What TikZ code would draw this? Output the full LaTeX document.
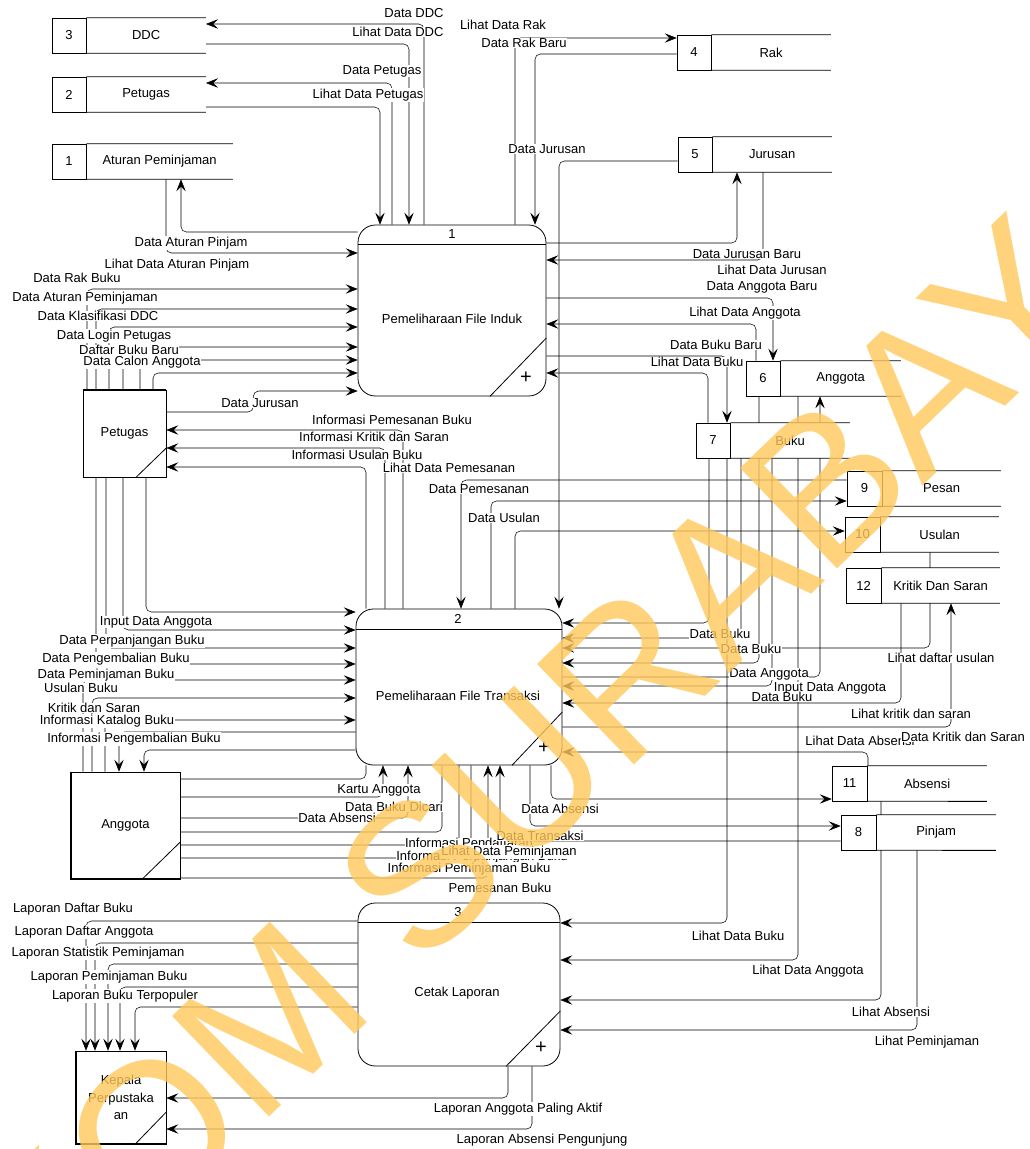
\documentclass[tikz,border=0pt]{standalone}
\usepackage{fontspec}
\setmainfont{Liberation Sans}
\usetikzlibrary{arrows.meta, positioning, calc, backgrounds}
\definecolor{wmyellow}{RGB}{255,200,90}

\begin{document}
\begin{tikzpicture}[x=1pt, y=-1pt, scale=0.75, transform shape, line width=0.6pt, font=\fontsize{13}{15}\selectfont]
            \tikzstyle{proc} = [draw, fill=white, rounded corners=13pt, inner sep=0pt]
            \tikzstyle{ent} = [draw, fill=white, inner sep=0pt]
            \tikzstyle{num} = [draw, fill=white, minimum height=35pt, inner sep=0pt]
            \tikzstyle{slab} = [fill=white, minimum height=35pt, inner sep=0pt, anchor=west]
            \tikzstyle{arrow} = [rounded corners=4pt, -{Stealth[length=9pt, width=7pt, inset=3.5pt]}]
            \tikzstyle{line} = [rounded corners=4pt]
            \tikzstyle{lbl} = [fill=white, inner sep=0.5pt]
            \tikzstyle{plus} = [inner sep=0pt, font=\fontsize{20}{20}\selectfont]
            \useasboundingbox (0,0) rectangle (1029,1149);

            % data stores
            \node[num, minimum width=34pt] (n3) at (69,35.5) {3};
            \node[slab, minimum width=119pt] (s3) at (n3.east) {DDC};
            \node[num, minimum width=34pt] (n2) at (69,94.5) {2};
            \node[slab, minimum width=119pt] (s2) at (n2.east) {Petugas};
            \node[num, minimum width=34pt] (n1) at (69,161.5) {1};
            \node[slab, minimum width=146pt] (s1) at (n1.east) {Aturan Peminjaman};
            \node[num, minimum width=34pt] (n4) at (694,52.5) {4};
            \node[slab, minimum width=119pt] (s4) at (n4.east) {Rak};
            \node[num, minimum width=34pt] (n5) at (695,154.5) {5};
            \node[slab, minimum width=119pt] (s5) at (n5.east) {Jurusan};
            \node[num, minimum width=34pt] (n6) at (763,378.5) {6};
            \node[slab, minimum width=120pt] (s6) at (n6.east) {Anggota};
            \node[num, minimum width=34pt] (n7) at (713,440.5) {7};
            \node[slab, minimum width=119pt] (s7) at (n7.east) {Buku};
            \node[num, minimum width=35pt] (n9) at (864.5,488.5) {9};
            \node[slab, minimum width=118pt] (s9) at (n9.east) {Pesan};
            \node[num, minimum width=35pt] (n10) at (862.5,534.5) {10};
            \node[slab, minimum width=118pt] (s10) at (n10.east) {Usulan};
            \node[num, minimum width=35pt] (n12) at (863.5,585.5) {12};
            \node[slab, minimum width=118pt] (s12) at (n12.east) {Kritik Dan Saran};
            \node[num, minimum width=35pt] (n11) at (849.5,783.5) {11};
            \node[slab, minimum width=119pt] (s11) at (n11.east) {Absensi};
            \node[num, minimum width=35pt] (n8) at (858.5,832.5) {8};
            \node[slab, minimum width=119pt] (s8) at (n8.east) {Pinjam};
            \draw (n3.north east) -- (s3.north east) (n3.south east) -- (s3.south east);
            \draw (n2.north east) -- (s2.north east) (n2.south east) -- (s2.south east);
            \draw (n1.north east) -- (s1.north east) (n1.south east) -- (s1.south east);
            \draw (n4.north east) -- (s4.north east) (n4.south east) -- (s4.south east);
            \draw (n5.north east) -- (s5.north east) (n5.south east) -- (s5.south east);
            \draw (n6.north east) -- (s6.north east) (n6.south east) -- (s6.south east);
            \draw (n7.north east) -- (s7.north east) (n7.south east) -- (s7.south east);
            \draw (n9.north east) -- (s9.north east) (n9.south east) -- (s9.south east);
            \draw (n10.north east) -- (s10.north east) (n10.south east) -- (s10.south east);
            \draw (n12.north east) -- (s12.north east) (n12.south east) -- (s12.south east);
            \draw (n11.north east) -- (s11.north east) (n11.south east) -- (s11.south east);
            \draw (n8.north east) -- (s8.north east) (n8.south east) -- (s8.south east);

            % processes
            \node[proc, minimum width=188pt, minimum height=171pt] (p1) at (452,310.5) {};
            \node[proc, minimum width=206pt, minimum height=156pt] (p2) at (459,687) {};
            \node[proc, minimum width=202pt, minimum height=163pt] (p3) at (459,984.5) {};
            \draw (p1.west |- 0,244) -- (p1.east |- 0,244);
            \draw (p1.south -| 490,0) -- (p1.east |- 0,338);
            \node (p1n) at (452,234.5) {1};
            \node (p1t) at (452,319) {Pemeliharaan File Induk};
            \node[plus] (p1p) at (526,378) {+};
            \draw (p2.west |- 0,629) -- (p2.east |- 0,629);
            \draw (p2.south -| 512,0) -- (p2.east |- 0,712);
            \node (p2n) at (458,619) {2};
            \node (p2t) at (458,696) {Pemeliharaan File Transaksi};
            \node[plus] (p2p) at (544,748) {+};
            \draw (p3.west |- 0,922) -- (p3.east |- 0,922);
            \draw (p3.south -| 506,0) -- (p3.east |- 0,1011);
            \node (p3n) at (458,912.5) {3};
            \node (p3t) at (457,993) {Cetak Laporan};
            \node[plus] (p3p) at (541,1048) {+};

            % external entities
            \node[ent, minimum width=83pt, minimum height=87pt] (pet) at (124.5,433.5) {Petugas};
            \node[ent, minimum width=109pt, minimum height=107pt] (ang) at (125.5,825.5) {Anggota};
            \node[ent, minimum width=90pt, minimum height=93pt, align=center, font=\fontsize{13}{17.5}\selectfont] (kep) at (121,1097.5) {Kepala\\Perpustaka\\an};
            \draw (pet.south -| 136,0) -- (pet.east |- 0,448);
            \draw (ang.south -| 142,0) -- (ang.east |- 0,842);
            \draw (kep.south -| 135,0) -- (kep.east |- 0,1112);
            \draw[line width=1.3pt] (pet.north west) -- (pet.north east);
            \draw[line width=1.3pt] (ang.north west) |- (ang.south east);
            \draw[line width=1.3pt] (kep.north west) |- (kep.south east);

            \begin{scope}[on background layer]
            \fill[white] (0,0) rectangle (1029,1149);
            % process 1
            \draw[arrow] (p1.north -| 424,0) |- (s3.east |- 0,24);
            \draw[arrow] (s3.east |- 0,44) -| (p1.north -| 409,0);
            \draw[arrow] (p1.north -| 392,0) |- (s2.east |- 0,83);
            \draw[arrow] (s2.east |- 0,107) -| (p1.north -| 380,0);
            \draw[arrow] (p1.west |- 0,232) -| (s1.south -| 181,0);
            \draw[arrow] (s1.south -| 166,0) |- (p1.west |- 0,253);
            \draw[arrow] (p1.north -| 515,0) |- (n4.west |- 0,38);
            \draw[arrow] (n4.west |- 0,54) -| (p1.north -| 535,0);
            \draw[arrow] (n5.west |- 0,161) -| (p2.north -| 559,0);
            \draw[arrow] (p1.east |- 0,243) -| (s5.south -| 737,0);
            \draw[arrow] (s5.south -| 763,0) |- (p1.east |- 0,260);
            \draw[arrow] (p1.east |- 0,298) -| (n6.north -| 773,0);
            \draw[arrow] (n6.north -| 756,0) |- (p1.east |- 0,324);
            \draw[arrow] (p1.east |- 0,356) -| (n7.north -| 727,0);
            \draw[arrow] (n7.north -| 708,0) |- (p1.east |- 0,373);
            \draw[arrow] (pet.north -| 87,0) |- (p1.west |- 0,289);
            \draw[arrow] (pet.north -| 96,0) |- (p1.west |- 0,309);
            \draw[arrow] (pet.north -| 109,0) |- (p1.west |- 0,327);
            \draw[arrow] (pet.north -| 123,0) |- (p1.west |- 0,347);
            \draw[arrow] (pet.north -| 140,0) |- (p1.west |- 0,360);
            \draw[arrow] (pet.north -| 153,0) |- (p1.west |- 0,373);
            \draw[arrow] (pet.east |- 0,412) -- ++(87,0) |- (p1.west |- 0,391);
            % process 2
            \draw[arrow] (p2.north -| 403,0) |- (pet.east |- 0,430);
            \draw[arrow] (p2.north -| 385,0) |- (pet.east |- 0,448);
            \draw[arrow] (p2.north -| 366,0) |- (pet.east |- 0,467);
            \draw[arrow] (n9.west |- 0,480) -| (p2.north -| 461,0);
            \draw[arrow] (p2.north -| 491,0) |- (n9.west |- 0,501);
            \draw[arrow] (p2.north -| 515,0) |- (n10.west |- 0,531);
            \draw[arrow] (pet.south -| 146,0) |- (p2.west |- 0,612);
            \draw[arrow] (pet.south -| 123,0) |- (p2.west |- 0,630);
            \draw[arrow] (pet.south -| 106,0) |- (p2.west |- 0,648);
            \draw[arrow] (pet.south -| 96,0) |- (p2.west |- 0,664);
            \draw[arrow] (ang.north -| 83,0) |- (p2.west |- 0,680);
            \draw[arrow] (ang.north -| 92,0) |- (p2.west |- 0,698);
            \draw[arrow] (ang.north -| 105,0) |- (p2.west |- 0,720);
            \draw[arrow] (p2.west |- 0,732) -| (ang.north -| 119,0);
            \draw[arrow] (p2.west |- 0,750) -| (ang.north -| 144,0);
            \draw[line] (ang.east |- 0,779) -| (p2.south -| 366,0);
            \draw[arrow] (ang.east |- 0,797) -| (p2.south -| 383,0);
            \draw[arrow] (ang.east |- 0,818) -| (p2.south -| 408,0);
            \draw[line] (ang.east |- 0,832) -| (p2.south -| 442,0);
            \draw[line] (p2.south -| 459,0) |- (ang.east |- 0,845);
            \draw[line] (p2.south -| 471,0) |- (ang.east |- 0,858);
            \draw[arrow] (ang.east |- 0,878) -| (p2.south -| 488,0);
            \draw[arrow] (n8.west |- 0,841) -| (p2.south -| 500,0);
            \draw[arrow] (p2.south -| 530,0) |- (n8.west |- 0,826);
            \draw[arrow] (p2.south -| 551,0) |- (n11.west |- 0,799);
            \draw[arrow] (n7.south -| 709,0) |- (p2.east |- 0,623);
            \draw[arrow] (s7.south -| 741,0) |- (p2.east |- 0,638);
            \draw[arrow] (s10.south -| 930,0) |- (p2.east |- 0,648);
            \draw[arrow] (n6.south -| 759,0) |- (p2.east |- 0,663);
            \draw[arrow] (p2.east |- 0,677) -| (s6.south -| 820,0);
            \draw[arrow] (s7.south -| 772,0) |- (p2.east |- 0,686);
            \draw[arrow] (s12.south -| 901,0) |- (p2.east |- 0,703);
            \draw[arrow] (p2.east |- 0,727) -| (s12.south -| 951,0);
            \draw[arrow] (s11.north -| 868,0) |- (p2.east |- 0,752);
            % process 3
            \draw[arrow] (n7.south -| 727,0) |- (p3.east |- 0,923);
            \draw[arrow] (s6.south -| 798,0) |- (p3.east |- 0,960);
            \draw[arrow] (s11.south -| 881,0) |- (p3.east |- 0,1000);
            \draw[arrow] (s8.south -| 917,0) |- (p3.east |- 0,1030);
            \draw[arrow] (p3.west |- 0,921) -| (kep.north -| 86,0);
            \draw[arrow] (p3.west |- 0,943) -| (kep.north -| 95,0);
            \draw[arrow] (p3.west |- 0,964) -| (kep.north -| 108,0);
            \draw[arrow] (p3.west |- 0,987) -| (kep.north -| 120,0);
            \draw[arrow] (p3.west |- 0,1007) -| (kep.north -| 135,0);
            \draw[arrow] (p3.south -| 508,0) |- (kep.east |- 0,1098);
            \draw[arrow] (p3.south -| 532,0) |- (kep.east |- 0,1129);
            \end{scope}

            % flow labels
            \node[lbl] (l1) at (414,13) {Data DDC};
            \node[lbl] (l2) at (398,32) {Lihat Data DDC};
            \node[lbl] (l3) at (382,71) {Data Petugas};
            \node[lbl] (l4) at (368,95) {Lihat Data Petugas};
            \node[lbl] (l5) at (503,25) {Lihat Data Rak};
            \node[lbl] (l6) at (524,43) {Data Rak Baru};
            \node[lbl] (l7) at (547,149) {Data Jurusan};
            \node[lbl] (l8) at (191,243) {Data Aturan Pinjam};
            \node[lbl] (l9) at (177,265) {Lihat Data Aturan Pinjam};
            \node[lbl] (l10) at (77,278) {Data Rak Buku};
            \node[lbl] (l11) at (85,298) {Data Aturan Peminjaman};
            \node[lbl] (l12) at (98,316) {Data Klasifikasi DDC};
            \node[lbl] (l13) at (114,336) {Data Login Petugas};
            \node[lbl] (l14) at (129,350) {Daftar Buku Baru};
            \node[lbl] (l15) at (142,362) {Data Calon Anggota};
            \node[lbl] (l16) at (260,403) {Data Jurusan};
            \node[lbl] (l17) at (392,420) {Informasi Pemesanan Buku};
            \node[lbl] (l18) at (374,437) {Informasi Kritik dan Saran};
            \node[lbl] (l19) at (357,455) {Informasi Usulan Buku};
            \node[lbl] (l20) at (449,468) {Lihat Data Pemesanan};
            \node[lbl] (l21) at (479,489) {Data Pemesanan};
            \node[lbl] (l22) at (504,518) {Data Usulan};
            \node[lbl] (l23) at (747,254) {Data Jurusan Baru};
            \node[lbl] (l24) at (772,270) {Lihat Data Jurusan};
            \node[lbl] (l25) at (762,287) {Data Anggota Baru};
            \node[lbl] (l26) at (745,313) {Lihat Data Anggota};
            \node[lbl] (l27) at (716,345) {Data Buku Baru};
            \node[lbl] (l28) at (697,362) {Lihat Data Buku};
            \node[lbl] (l29) at (156,622) {Input Data Anggota};
            \node[lbl] (l30) at (132,641) {Data Perpanjangan Buku};
            \node[lbl] (l31) at (116,659) {Data Pengembalian Buku};
            \node[lbl] (l32) at (106,675) {Data Peminjaman Buku};
            \node[lbl] (l33) at (81,688) {Usulan Buku};
            \node[lbl] (l34) at (94,708) {Kritik dan Saran};
            \node[lbl] (l35) at (107,721) {Informasi Katalog Buku};
            \node[lbl] (l36) at (134,739) {Informasi Pengembalian Buku};
            \node[lbl] (l37) at (379,790) {Kartu Anggota};
            \node[lbl] (l38) at (394,807) {Data Buku Dicari};
            \node[lbl] (l39) at (337,818) {Data Absensi};
            \node[lbl] (l40) at (560,809) {Data Absensi};
            \node[lbl] (l41) at (469,843) {Informasi Pendaftaran};
            \node[lbl] (l42) at (482,857) {Informasi Perpanjangan Buku};
            \node[lbl] (l43) at (540,836) {Data Transaksi};
            \node[lbl] (l44) at (509,852) {Lihat Data Peminjaman};
            \node[lbl] (l45) at (469,869) {Informasi Peminjaman Buku};
            \node[lbl] (l46) at (500,888) {Pemesanan Buku};
            \node[lbl] (l47) at (720,634) {Data Buku};
            \node[lbl] (l48) at (751,649) {Data Buku};
            \node[lbl] (l49) at (941,658) {Lihat daftar usulan};
            \node[lbl] (l50) at (769,674) {Data Anggota};
            \node[lbl] (l51) at (830,688) {Input Data Anggota};
            \node[lbl] (l52) at (782,697) {Data Buku};
            \node[lbl] (l53) at (911,714) {Lihat kritik dan saran};
            \node[lbl] (l54) at (860,741) {Lihat Data Absensi};
            \node[lbl] (l55) at (963,737) {Data Kritik dan Saran};
            \node[lbl] (l56) at (73,909) {Laporan Daftar Buku};
            \node[lbl] (l57) at (84,932) {Laporan Daftar Anggota};
            \node[lbl] (l58) at (98,953) {Laporan Statistik Peminjaman};
            \node[lbl] (l59) at (109,977) {Laporan Peminjaman Buku};
            \node[lbl] (l60) at (125,996) {Laporan Buku Terpopuler};
            \node[lbl] (l61) at (518,1109) {Laporan Anggota Paling Aktif};
            \node[lbl] (l62) at (542,1140) {Laporan Absensi Pengunjung};
            \node[lbl] (l63) at (738,936) {Lihat Data Buku};
            \node[lbl] (l64) at (808,971) {Lihat Data Anggota};
            \node[lbl] (l65) at (891,1012) {Lihat Absensi};
            \node[lbl] (l66) at (927,1042) {Lihat Peminjaman};

            % watermark
            \node[rotate=44, text=wmyellow, text opacity=0.8, font=\fontsize{203}{203}\selectfont] (wm) at (458,838) {STIKOM SURABAYA};
        \end{tikzpicture}
\end{document}
